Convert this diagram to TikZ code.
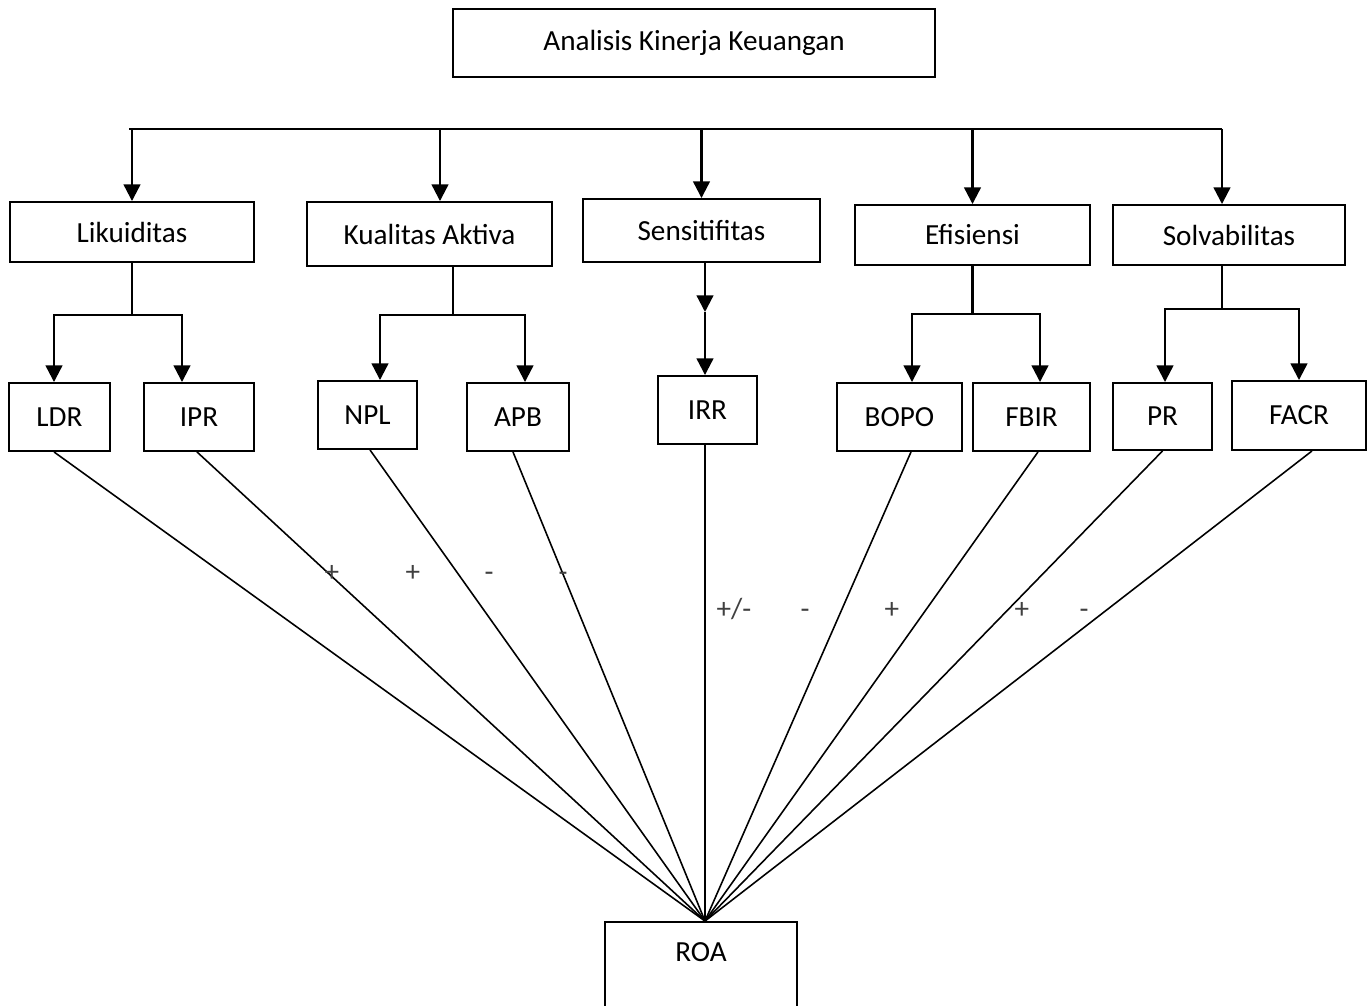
\documentclass[tikz,border=0pt]{standalone}
\usepackage{fontspec}
\setmainfont{Carlito}
\usetikzlibrary{arrows.meta}

\tikzset{
  kotak/.style={draw, line width=1.1pt, inner sep=0pt, font=\fontsize{16.6}{20}\selectfont},
  rasio/.style={kotak, minimum height=1.36cm},
  garis/.style={line width=1.3pt},
  panah/.style={line width=1.3pt, -{Triangle[length=9.5pt,width=9.5pt]}},
  keroa/.style={line width=0.9pt},
  tanda/.style={font=\fontsize{16.6}{20}\selectfont, text=black!75, inner sep=0pt, anchor=base}
}

\begin{document}
\begin{tikzpicture}[x=0.02cm,y=-0.02cm]
\useasboundingbox (0,0) rectangle (1367,1006);

% judul
\node[kotak, minimum width=9.64cm, minimum height=1.36cm] (judul) at (694,43) {Analisis Kinerja Keuangan};

% aspek
\node[kotak, minimum width=4.88cm, minimum height=1.2cm] (lik) at (132,232) {Likuiditas};
\node[kotak, minimum width=4.9cm, minimum height=1.28cm] (kua) at (429.5,234) {Kualitas Aktiva};
\node[kotak, minimum width=4.74cm, minimum height=1.26cm] (sen) at (701.5,230.5) {Sensitifitas};
\node[kotak, minimum width=4.7cm, minimum height=1.2cm] (efi) at (972.5,235) {Efisiensi};
\node[kotak, minimum width=4.64cm, minimum height=1.2cm] (sol) at (1229,235) {Solvabilitas};

% rasio
\node[rasio, minimum width=2.02cm] (ldr) at (59.5,417) {LDR};
\node[rasio, minimum width=2.2cm] (ipr) at (199,417) {IPR};
\node[rasio, minimum width=1.98cm] (npl) at (367.5,415) {NPL};
\node[rasio, minimum width=2.04cm] (apb) at (518,417) {APB};
\node[rasio, minimum width=1.98cm] (irr) at (707.5,410) {IRR};
\node[rasio, minimum width=2.5cm] (bopo) at (899.5,417) {BOPO};
\node[rasio, minimum width=2.34cm] (fbir) at (1031.5,417) {FBIR};
\node[rasio, minimum width=1.98cm, minimum height=1.34cm] (pr) at (1162.5,416.5) {PR};
\node[rasio, minimum width=2.68cm, minimum height=1.38cm] (facr) at (1299,415.5) {FACR};

\node[kotak, minimum width=3.84cm, minimum height=1.76cm, text depth=16pt] (roa) at (701,966) {ROA};

% garis atas
\coordinate (busKiri) at (129,129);
\coordinate (busKanan) at (1222,129);
\coordinate (kuaPanah) at (440,129);
\draw[garis] (busKiri) -- (busKanan);
\draw[panah] (lik.north |- busKiri) -- (lik.north);
\draw[panah] (kuaPanah) -- (kuaPanah |- kua.north);
\draw[panah] (sen.north |- busKiri) -- (sen.north);
\draw[panah] (efi.north |- busKiri) -- (efi.north);
\draw[panah] (busKanan) -- (busKanan |- sol.north);

% likuiditas
\coordinate (likKiri) at (54,315);
\coordinate (likKanan) at (182,315);
\draw[garis] (lik.south) -- (lik.south |- likKiri);
\draw[panah] (likKanan) -- (likKiri) -- (likKiri |- ldr.north);
\draw[panah] (likKiri) -- (likKanan) -- (likKanan |- ipr.north);

% kualitas aktiva
\coordinate (kuaBatang) at (453,315);
\coordinate (kuaKiri) at (380,315);
\coordinate (kuaKanan) at (525,315);
\draw[garis] (kuaBatang |- kua.south) -- (kuaBatang);
\draw[panah] (kuaKanan) -- (kuaKiri) -- (kuaKiri |- npl.north);
\draw[panah] (kuaKiri) -- (kuaKanan) -- (kuaKanan |- apb.north);

% sensitifitas
\coordinate (senTengah) at (705,312);
\draw[panah] (senTengah |- sen.south) -- (senTengah);
\draw[panah] (senTengah) -- (senTengah |- irr.north);

% efisiensi
\coordinate (efiKiri) at (912,314);
\coordinate (efiKanan) at (1040,314);
\draw[garis] (efi.south) -- (efi.south |- efiKiri);
\draw[panah] (efiKanan) -- (efiKiri) -- (efiKiri |- bopo.north);
\draw[panah] (efiKiri) -- (efiKanan) -- (efiKanan |- fbir.north);

% solvabilitas
\coordinate (solKiri) at (1165,309);
\coordinate (solKanan) at (1299,309);
\draw[garis] (busKanan |- sol.south) -- (busKanan |- solKiri);
\draw[panah] (solKanan) -- (solKiri) -- (solKiri |- pr.north);
\draw[panah] (solKiri) -- (solKanan) -- (solKanan |- facr.north);

% ke ROA
\coordinate (puncak) at ([xshift=0.8mm]roa.north);
\foreach \n/\g in {ldr/-1.1mm, ipr/-0.4mm, npl/0.5mm, apb/-1mm, irr/-0.5mm, bopo/2.3mm, fbir/1.3mm, pr/0mm, facr/2.6mm}
  \draw[keroa] ([xshift=\g]\n.south) -- (puncak);

% tanda pengaruh
\node[tanda] (tLdr) at (332,582) {+};
\node[tanda] (tIpr) at (413,582) {+};
\node[tanda] (tNpl) at (489,582) {-};
\node[tanda] (tApb) at (563,582) {-};
\node[tanda] (tIrr) at (734,619) {+/-};
\node[tanda] (tBopo) at (805,619) {-};
\node[tanda] (tFbir) at (892,619) {+};
\node[tanda] (tPr) at (1022,619) {+};
\node[tanda] (tFacr) at (1084,619) {-};

\end{tikzpicture}
\end{document}
